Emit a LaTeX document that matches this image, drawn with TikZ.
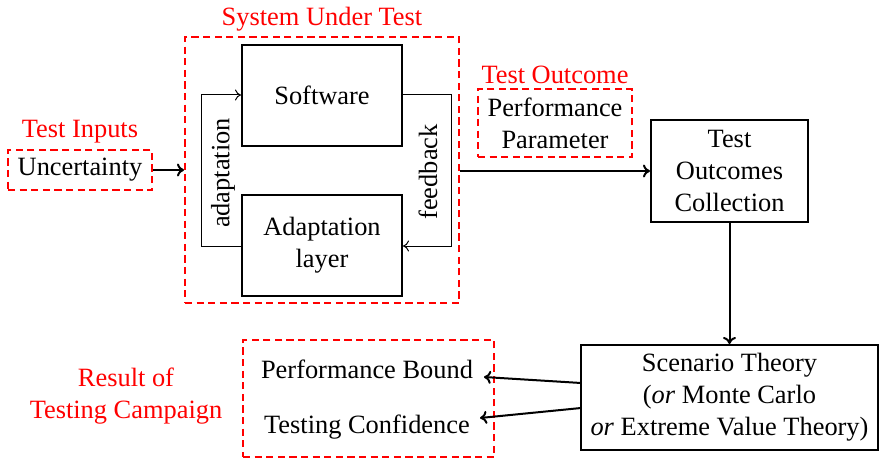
\documentclass[tikz,border=0pt]{standalone}
\usepackage{fontspec}
\setmainfont{Liberation Serif}
\usetikzlibrary{arrows.meta}
\begin{document}
\begin{tikzpicture}[x=0.5pt,y=-0.5pt,
  every node/.style={font=\fontsize{13.2}{16}\selectfont, inner sep=0pt, align=center},
  blk/.style={draw, line width=1pt, minimum width=#1},
  redbox/.style={draw=red, dash pattern=on 3.6pt off 2.2pt, line width=1pt},
  redtxt/.style={text=red},
  tarr/.style={-{To[length=3pt,width=5.5pt]}, line width=0.5pt},
  arr/.style={-{To[length=3.5pt,width=6.5pt]}, line width=1pt}
]
\useasboundingbox (0,0) rectangle (879,460);
% System under test
\node[redbox, minimum width=137pt, minimum height=133pt] (sut) at (322,170) {};
\node[redtxt] (sutl) at (322,19) {System Under Test};
\node[blk=80pt, minimum height=50.5pt] (sw) at (322,95.5) {\raisebox{-1pt}{Software}};
\node[blk=80pt, minimum height=50.5pt] (al) at (322,245.5) {Adaptation\\layer};
\coordinate (a1) at (201,246);
\coordinate (a2) at (201,95);
\coordinate (f1) at (451,95);
\coordinate (f2) at (451,246);
\draw[tarr] (al.west |- a1) -- (a1) -- (a2) -- (sw.west |- a2);
\draw[tarr] (sw.east |- f1) -- (f1) -- (f2) -- (al.east |- f2);
\node[rotate=90] (adl) at (223,173) {adaptation};
\node[rotate=90] (fbl) at (428,172) {feedback};
% inputs
\node[redtxt] (til) at (80,132) {Test Inputs};
\node[redbox, minimum width=72pt, minimum height=20pt] (unc) at (80,170) {\raisebox{-1.5pt}{Uncertainty}};
\draw[arr] (unc.east) -- (sut.west |- unc.east);
% outcome
\node[redtxt] (tol) at (555,75) {Test Outcome};
\node[redbox, minimum width=77pt, minimum height=34pt] (pp) at (555,123) {Performance\\Parameter};
\node[blk=78.5pt, minimum height=51pt] (toc) at (729.5,171) {Test\\Outcomes\\Collection};
\draw[arr] (sut.east |- toc.west) -- (toc.west);
% scenario
\node[blk=148.5pt, minimum height=52.5pt] (sc) at (729.5,397.5) {Scenario Theory\\(\emph{or} Monte Carlo\\\emph{or} Extreme Value Theory)};
\draw[arr] (toc.south) -- (sc.north -| toc.south);
% results
\node[redbox, minimum width=125.5pt, minimum height=58.5pt] (res) at (368.5,398.5) {};
\node (pb) at (367,369) {Performance Bound};
\node (tc) at (367,427) {Testing Confidence};
\node[redtxt] (rl) at (126,396) {Result of\\Testing Campaign};
\coordinate (s1) at (581,383);
\coordinate (s2) at (581,408);
\coordinate (e1) at (484,377);
\coordinate (e2) at (480,418);
\draw[arr] (s1) -- (e1);
\draw[arr] (s2) -- (e2);
\end{tikzpicture}
\end{document}
